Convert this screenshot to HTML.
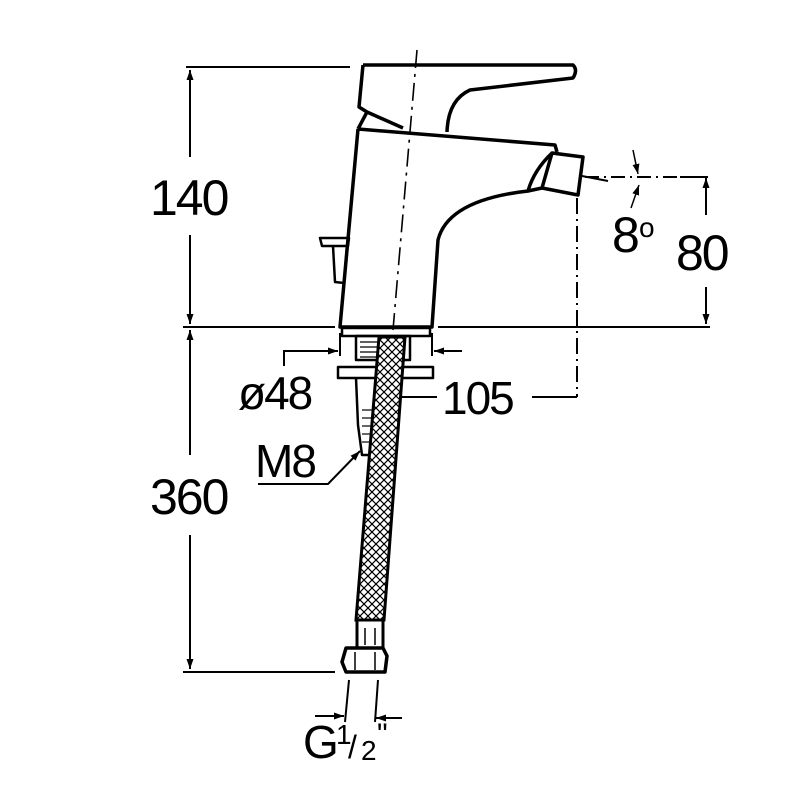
<!DOCTYPE html>
<html><head><style>body{margin:0;background:#fff}svg{display:block}text{font-family:"Liberation Sans",sans-serif;fill:#000}</style></head>
<body>
<svg width="800" height="800" viewBox="0 0 800 800" xmlns="http://www.w3.org/2000/svg">
<defs>
<marker id="a" viewBox="0 0 10 10" refX="10" refY="5" markerWidth="10" markerHeight="10" orient="auto" markerUnits="userSpaceOnUse"><path d="M0,1.5 L10,5 L0,8.5z" fill="#000"/></marker>
<pattern id="mesh" width="8" height="8" patternUnits="userSpaceOnUse"><rect width="8" height="8" fill="#fff"/><path d="M0,0L8,8M8,0L0,8" stroke="#000" stroke-width="1.2"/></pattern>
</defs>
<g stroke="#000" fill="none" stroke-width="2">
<line x1="186" y1="67" x2="350" y2="67"/>
<line x1="183" y1="327" x2="335" y2="327"/>
<line x1="438" y1="327" x2="710" y2="327"/>
<line x1="183" y1="672" x2="335" y2="672"/>
<line x1="190" y1="157" x2="190" y2="70" marker-end="url(#a)"/>
<line x1="190" y1="235" x2="190" y2="324" marker-end="url(#a)"/>
<line x1="190" y1="455" x2="190" y2="330" marker-end="url(#a)"/>
<line x1="190" y1="535" x2="190" y2="669" marker-end="url(#a)"/>
<line x1="706" y1="215" x2="706" y2="178" marker-end="url(#a)"/>
<line x1="706" y1="287" x2="706" y2="324" marker-end="url(#a)"/>
<line x1="680" y1="177" x2="708" y2="177"/>
<line x1="585" y1="177" x2="680" y2="177" stroke-dasharray="14,5,2,5"/>
<line x1="582" y1="176" x2="608" y2="181"/>
<line x1="633" y1="150" x2="638" y2="174" marker-end="url(#a)" stroke-width="1.5"/>
<line x1="631" y1="208" x2="639" y2="185" marker-end="url(#a)" stroke-width="1.5"/>
<line x1="577" y1="198" x2="577" y2="397" stroke-dasharray="16,5,2,5"/>
<line x1="532" y1="397" x2="577" y2="397"/>
<line x1="437" y1="397" x2="390" y2="397" marker-end="url(#a)"/>
<line x1="340" y1="333" x2="340" y2="356"/>
<line x1="432" y1="333" x2="432" y2="356"/>
<polyline points="284,366 284,351 338,351" marker-end="url(#a)"/>
<line x1="462" y1="351" x2="434" y2="351" marker-end="url(#a)"/>
<polyline points="258,484 328,484 360,451" marker-end="url(#a)"/>
<line x1="349" y1="680" x2="345" y2="722"/>
<line x1="378" y1="680" x2="375" y2="722"/>
<line x1="315" y1="716" x2="344" y2="716" marker-end="url(#a)"/>
<line x1="402" y1="718" x2="376" y2="718" marker-end="url(#a)"/>
<line x1="417" y1="50" x2="393" y2="330" stroke-dasharray="18,6,3,6" stroke-width="1.6"/>
</g>
<g stroke="#000" stroke-width="3.5" fill="none" stroke-linejoin="round">
<path d="M363,65 L573,65 Q578,70 573,78 L470,90 Q448,100 447,132"/>
<path d="M363,65 L359,107 L367,112 L403,128"/>
<path d="M367,112 L358,129"/>
<path d="M358,129 L555,145 L557,152"/>
<path d="M358,129 L340,327 L432,327 L438,240 Q448,200 528,191"/>
<path d="M552,153 L583,157 L578,195 L542,188 Z"/>
<path d="M552,153 Q534,170 528,191 L542,188"/>
<path d="M320,238 L349,238 L348,246 L322,246 Z" stroke-width="2.5"/>
<path d="M333,246 L335,282 L344,283 L347,246" stroke-width="2.5"/>
<rect x="342" y="328" width="88" height="8" stroke-width="2.5"/>
<rect x="356" y="336" width="54" height="24" stroke-width="2.5"/>
<rect x="338" y="367" width="95" height="11" stroke-width="2.5"/>
<path d="M356,378 L358,425 L362,455 L372,455" stroke-width="2.5"/>
</g>
<g stroke="#000" stroke-width="1.2">
<line x1="360" y1="342" x2="378" y2="342"/><line x1="360" y1="347" x2="378" y2="347"/><line x1="360" y1="352" x2="378" y2="352"/><line x1="360" y1="357" x2="378" y2="357"/>
<line x1="362" y1="410" x2="372" y2="410"/><line x1="362" y1="418" x2="372" y2="418"/><line x1="362" y1="426" x2="372" y2="426"/><line x1="362" y1="434" x2="372" y2="434"/><line x1="362" y1="442" x2="372" y2="442"/>
</g>
<path d="M379,337 L405,337 L384,620 L356,620 Z" fill="url(#mesh)" stroke="#000" stroke-width="3"/>
<rect x="357" y="620" width="26" height="28" fill="#fff" stroke="#000" stroke-width="3"/>
<line x1="365" y1="628" x2="365" y2="645" stroke="#000" stroke-width="1.5"/><line x1="375" y1="628" x2="375" y2="645" stroke="#000" stroke-width="1.5"/>
<path d="M346,648 L383,648 L387,656 L385,672 L346,672 L342,662 Z" fill="#fff" stroke="#000" stroke-width="3.5" stroke-linejoin="round"/>
<line x1="355" y1="652" x2="355" y2="670" stroke="#000" stroke-width="1.5"/><line x1="375" y1="652" x2="375" y2="670" stroke="#000" stroke-width="1.5"/>
<g font-size="50" letter-spacing="-2">
<text x="150" y="215">140</text>
<text x="150" y="514">360</text>
<text x="676" y="270">80</text>
<text x="612" y="252">8</text>
<text x="442" y="414" font-size="46">105</text>
<text x="238" y="409" font-size="46">ø48</text>
<text x="255" y="477" font-size="46">M8</text>
<text x="303" y="758" font-size="46">G</text>
</g>
<text x="639" y="237" font-size="28">o</text>
<text x="336" y="744" font-size="28">1</text>
<text x="348" y="758" font-size="32">/</text>
<text x="361" y="760" font-size="28">2</text>
<text x="377" y="744" font-size="30">"</text>
</svg>
</body></html>
